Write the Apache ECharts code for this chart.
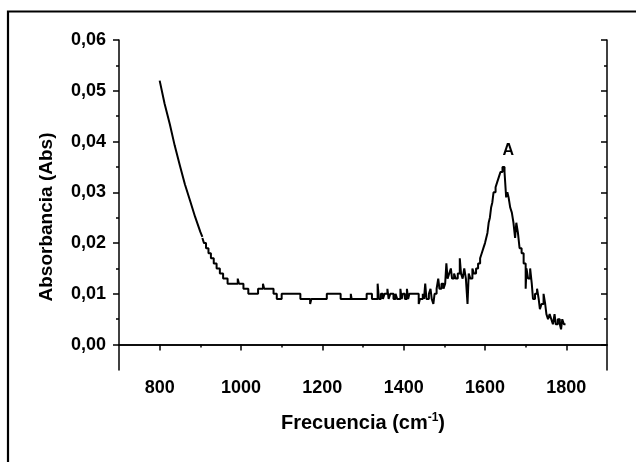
<!DOCTYPE html>
<html>
<head>
<meta charset="utf-8">
<script src="https://cdn.jsdelivr.net/npm/echarts@6.0.0/dist/echarts.min.js"></script>
<style>
html,body{margin:0;padding:0;background:#fff;}
#chart{width:636px;height:462px;}
</style>
</head>
<body>
<div id="chart"></div>
<script>
// ---- data ----
const xTickValues = [800, 1000, 1200, 1400, 1600, 1800];
const xMinorValues = [900, 1100, 1300, 1500, 1700];
const yTickValues = [0, 0.01, 0.02, 0.03, 0.04, 0.05, 0.06];
const yMinorValues = [0.005, 0.015, 0.025, 0.035, 0.045, 0.055];

// smooth steep part of the spectrum
const steepFreq = [800, 812, 825, 837, 850, 862, 875, 887, 900, 905];
const steepAbs  = [0.052, 0.0475, 0.0434, 0.0392, 0.0352, 0.0316, 0.0283, 0.0252, 0.0222, 0.0212];

// quantised (stepped) part: each value holds from its frequency to the next
const stepFreq = [905, 909, 914, 920, 926, 933, 940, 948, 956, 967,
  992, 995, 1006, 1018, 1042, 1054, 1057, 1080, 1088, 1100,
  1146, 1170, 1173, 1211, 1245, 1270, 1272, 1309, 1322, 1336,
  1339, 1344, 1349, 1353, 1360, 1363, 1367, 1375, 1380, 1384,
  1392, 1395, 1398, 1403, 1408, 1411, 1414, 1437, 1440, 1447,
  1450, 1453, 1456, 1462, 1466, 1469, 1473, 1476, 1481, 1485,
  1488, 1493, 1498, 1502, 1505, 1508, 1512, 1516, 1519, 1524,
  1528, 1533, 1538, 1541, 1545, 1549, 1553, 1557, 1560, 1564,
  1569, 1573, 1578, 1583, 1588, 1592, 1596, 1600, 1603, 1606,
  1609, 1612, 1615, 1618, 1621, 1626, 1630, 1634, 1638, 1643,
  1648, 1652, 1655, 1658, 1662, 1666, 1670, 1674, 1677, 1681,
  1685, 1690, 1695, 1700, 1702, 1706, 1711, 1715, 1718, 1723,
  1728, 1732, 1735, 1739, 1744, 1748, 1751, 1755, 1759, 1763,
  1767, 1771, 1774, 1779, 1784, 1787, 1790, 1794, 1798];
const stepAbs = [0.021, 0.020, 0.019, 0.018, 0.017, 0.016, 0.015, 0.014, 0.013, 0.012,
  0.013, 0.012, 0.011, 0.010, 0.011, 0.012, 0.011, 0.010, 0.009, 0.010,
  0.009, 0.008, 0.009, 0.010, 0.009, 0.010, 0.009, 0.010, 0.009, 0.012,
  0.009, 0.010, 0.009, 0.010, 0.011, 0.009, 0.010, 0.009, 0.010, 0.009,
  0.011, 0.009, 0.010, 0.009, 0.011, 0.009, 0.010, 0.008, 0.009, 0.010,
  0.009, 0.012, 0.009, 0.010, 0.011, 0.009, 0.008, 0.010, 0.011, 0.013,
  0.011, 0.012, 0.011, 0.012, 0.016, 0.013, 0.014, 0.015, 0.013, 0.014,
  0.013, 0.014, 0.017, 0.014, 0.013, 0.015, 0.013, 0.008, 0.014, 0.013,
  0.015, 0.014, 0.015, 0.016, 0.017, 0.018, 0.019, 0.020, 0.021, 0.022,
  0.024, 0.025, 0.027, 0.028, 0.030, 0.031, 0.032, 0.033, 0.034, 0.035,
  0.034, 0.029, 0.030, 0.029, 0.027, 0.026, 0.024, 0.021, 0.024, 0.022,
  0.019, 0.018, 0.016, 0.011, 0.015, 0.013, 0.015, 0.012, 0.009, 0.010,
  0.011, 0.009, 0.007, 0.008, 0.010, 0.008, 0.006, 0.005, 0.006, 0.005,
  0.004, 0.006, 0.004, 0.005, 0.004, 0.003, 0.005, 0.004, 0.004];

const peakLabel = { freq: 1657, abs: 0.0383, text: 'A' };
const xTitle = 'Frecuencia (cm';
const yTitle = 'Absorbancia (Abs)';

// ---- chart ----
const FONT = '"Liberation Sans", Arial, sans-serif';
const black = '#000';
const chart = echarts.init(document.getElementById('chart'), null, { renderer: 'canvas' });

function xAx(position, showLine, inside, len, values, withLabel) {
  return {
    type: 'value', position: position, min: 700, max: 1900,
    axisLine: { show: showLine, lineStyle: { color: black, width: 1.5 } },
    axisTick: { show: true, inside: inside, length: len, customValues: values, lineStyle: { color: black, width: 1.5 } },
    axisLabel: withLabel ? {
      show: true, customValues: values, margin: 9, color: black,
      fontFamily: FONT, fontWeight: 'bold', fontSize: 18,
      formatter: v => String(Math.round(v))
    } : { show: false },
    splitLine: { show: false }
  };
}
function yAx(position, showLine, inside, len, values, withLabel) {
  return {
    type: 'value', position: position, min: -0.005, max: 0.06,
    axisLine: { show: showLine, lineStyle: { color: black, width: 1.5 } },
    axisTick: { show: true, inside: inside, length: len, customValues: values, lineStyle: { color: black, width: 1.5 } },
    axisLabel: withLabel ? {
      show: true, customValues: values, margin: 13, color: black,
      fontFamily: FONT, fontWeight: 'bold', fontSize: 18,
      formatter: v => v.toFixed(2).replace('.', ',')
    } : { show: false },
    splitLine: { show: false }
  };
}

const xMain = xAx('bottom', true, false, 6, xTickValues, true);
xMain.name = xTitle + '{sup|-1}' + ')';
xMain.nameLocation = 'middle';
xMain.nameGap = 42;
xMain.nameTextStyle = {
  color: black, fontFamily: FONT, fontWeight: 'bold', fontSize: 20,
  rich: { sup: { fontFamily: FONT, fontWeight: 'bold', fontSize: 12, verticalAlign: 'top', padding: [0, 0, 10, 0], color: black } }
};

const yMain = yAx('left', true, false, 6, yTickValues, true);
yMain.name = yTitle;
yMain.nameLocation = 'middle';
yMain.nameGap = 63;
yMain.nameTextStyle = { color: black, fontFamily: FONT, fontWeight: 'bold', fontSize: 19, padding: [0, 24, 0, 0] };

const option = {
  backgroundColor: '#fff',
  animation: false,
  grid: { left: 119, right: 29, top: 40, bottom: 92, containLabel: false },
  xAxis: [
    xMain,
    xAx('bottom', false, false, 3, xMinorValues, false),
    xAx('top', true, true, 6, xTickValues, false),
    xAx('top', false, true, 3, xMinorValues, false)
  ],
  yAxis: [
    yMain,
    yAx('left', false, false, 3, yMinorValues, false),
    yAx('right', true, true, 6, yTickValues, false),
    yAx('right', false, true, 3, yMinorValues, false)
  ],
  graphic: [{
    type: 'polyline',
    shape: { points: [[8, 463], [8, 11.5], [637, 11.5]] },
    style: { stroke: black, lineWidth: 2.2, fill: null },
    silent: true, z: 100
  }],
  series: [
    {
      type: 'line', xAxisIndex: 0, yAxisIndex: 0,
      data: steepFreq.map((f, i) => [f, steepAbs[i]]),
      showSymbol: false, symbol: 'none',
      lineStyle: { color: black, width: 2 }
    },
    {
      type: 'line', xAxisIndex: 0, yAxisIndex: 0, step: 'end',
      data: stepFreq.map((f, i) => [f, stepAbs[i]]),
      showSymbol: false, symbol: 'none',
      lineStyle: { color: black, width: 2 },
      markPoint: {
        symbol: 'circle', symbolSize: 1,
        itemStyle: { color: 'rgba(0,0,0,0)' },
        label: { show: true, position: 'inside', formatter: peakLabel.text, color: black,
                 fontFamily: FONT, fontWeight: 'bold', fontSize: 16 },
        data: [{ coord: [peakLabel.freq, peakLabel.abs] }]
      }
    }
  ]
};
chart.setOption(option);
</script>
</body>
</html>
